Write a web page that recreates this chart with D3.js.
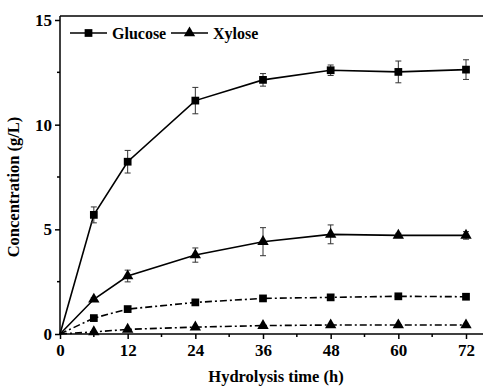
<!DOCTYPE html>
<html>
<head>
<meta charset="utf-8">
<script src="https://cdn.jsdelivr.net/npm/d3@7"></script>
<style>
  body { margin: 0; background: #fff; }
  svg text { font-family: "Liberation Serif", "Times New Roman", serif; font-weight: bold; fill: #000; }
</style>
</head>
<body>
<div id="chart"></div>
<script>
// Data
var times = [0, 6, 12, 24, 36, 48, 60, 72];
var glucose = [0, 5.69, 8.23, 11.15, 12.14, 12.6, 12.52, 12.63];
var glucoseErr = [0, 0.38, 0.54, 0.63, 0.3, 0.25, 0.52, 0.47];
var xylose = [0, 1.66, 2.77, 3.77, 4.41, 4.76, 4.71, 4.71];
var xyloseErr = [0, 0.08, 0.28, 0.34, 0.67, 0.45, 0.1, 0.18];
var glucoseLow = [0, 0.76, 1.19, 1.51, 1.70, 1.75, 1.80, 1.78];
var xyloseLow = [0, 0.1, 0.22, 0.33, 0.40, 0.43, 0.43, 0.43];
var xTicks = [0, 12, 24, 36, 48, 60, 72];
var yTicks = [0, 5, 10, 15];

var W = 483, H = 387;
var frameTop = 16;

var svg = d3.select("#chart").append("svg")
    .attr("width", W).attr("height", H)
    .attr("font-family", "Liberation Serif");

var x = d3.scaleLinear().domain([0, 72]).range([60, 466]);
var y = d3.scaleLinear().domain([0, 15]).range([334, 20]);

// Frame: top line running off the right edge
svg.append("line")
    .attr("x1", x(0)).attr("x2", W + 5)
    .attr("y1", frameTop).attr("y2", frameTop)
    .attr("stroke", "#000").attr("stroke-width", 1.5);

// X axis
var xAxis = svg.append("g")
    .attr("transform", "translate(0," + y(0) + ")")
    .call(d3.axisBottom(x).tickValues(xTicks).tickSize(5).tickSizeOuter(0).tickPadding(5));
xAxis.attr("font-family", null).attr("font-size", null);
xAxis.select(".domain").attr("d", "M" + x(0) + ",0H" + (W + 5)).attr("stroke-width", 1.5);
xAxis.selectAll(".tick line").attr("stroke-width", 1.5);
xAxis.selectAll("text").attr("font-size", 17);
svg.append("g")
    .attr("transform", "translate(0," + y(0) + ")")
    .selectAll("line").data(d3.range(6, 80, 12)).enter().append("line")
    .attr("x1", d => x(d)).attr("x2", d => x(d))
    .attr("y1", 0).attr("y2", 3)
    .attr("stroke", "#000").attr("stroke-width", 1.5);

// Y axis
var yAxis = svg.append("g")
    .attr("transform", "translate(" + x(0) + ",0)")
    .call(d3.axisLeft(y).tickValues(yTicks).tickSize(5).tickSizeOuter(0).tickPadding(3));
yAxis.attr("font-family", null).attr("font-size", null);
yAxis.select(".domain").attr("d", "M0," + y(0) + "V" + frameTop).attr("stroke-width", 1.5);
yAxis.selectAll(".tick line").attr("stroke-width", 1.5);
yAxis.selectAll("text").attr("font-size", 17);
svg.append("g")
    .attr("transform", "translate(" + x(0) + ",0)")
    .selectAll("line").data([2.5, 7.5, 12.5]).enter().append("line")
    .attr("x1", -3).attr("x2", 0)
    .attr("y1", d => y(d)).attr("y2", d => y(d))
    .attr("stroke", "#000").attr("stroke-width", 1.5);

// Axis labels
svg.append("text")
    .attr("x", 276).attr("y", 382)
    .attr("text-anchor", "middle").attr("font-size", 16.5)
    .text("Hydrolysis time (h)");
svg.append("text")
    .attr("transform", "translate(19," + 187 + ") rotate(-90)")
    .attr("text-anchor", "middle").attr("font-size", 16.5)
    .text("Concentration (g/L)");

var line = d3.line().x(d => x(d[0])).y(d => y(d[1]));
var square = d3.symbol().type(d3.symbolSquare).size(60);
var triangle = d3.symbol().type(d3.symbolTriangle).size(56);

function drawSeries(vals, errs, sym, dash) {
  var pts = times.map((t, i) => [t, vals[i], errs ? errs[i] : 0]);
  svg.append("path").datum(pts)
      .attr("d", line)
      .attr("fill", "none").attr("stroke", "#000").attr("stroke-width", 1.6)
      .attr("stroke-dasharray", dash);
  if (errs) {
    var eb = svg.append("g").selectAll("g").data(pts.slice(1)).enter().append("g")
        .attr("stroke", "#333").attr("stroke-width", 1);
    eb.append("line")
        .attr("x1", d => x(d[0])).attr("x2", d => x(d[0]))
        .attr("y1", d => y(d[1] + d[2])).attr("y2", d => y(d[1] - d[2]));
    eb.append("line")
        .attr("x1", d => x(d[0]) - 3).attr("x2", d => x(d[0]) + 3)
        .attr("y1", d => y(d[1] + d[2])).attr("y2", d => y(d[1] + d[2]));
    eb.append("line")
        .attr("x1", d => x(d[0]) - 3).attr("x2", d => x(d[0]) + 3)
        .attr("y1", d => y(d[1] - d[2])).attr("y2", d => y(d[1] - d[2]));
  }
  svg.append("g").selectAll("path").data(pts.slice(1)).enter().append("path")
      .attr("d", sym)
      .attr("transform", d => "translate(" + x(d[0]) + "," + y(d[1]) + ")")
      .attr("fill", "#000");
}

drawSeries(glucoseLow, null, square, "7,3,2,3");
drawSeries(xyloseLow, null, triangle, "7,3,2,3");
drawSeries(xylose, xyloseErr, triangle, null);
drawSeries(glucose, glucoseErr, square, null);

// Legend
var legend = svg.append("g").attr("transform", "translate(0,33)");
var items = [{name: "Glucose", sym: square, x0: 70}, {name: "Xylose", sym: triangle, x0: 171}];
items.forEach(function(it) {
  legend.append("line").attr("x1", it.x0).attr("x2", it.x0 + 37)
      .attr("y1", 0).attr("y2", 0).attr("stroke", "#000").attr("stroke-width", 1.5);
  legend.append("path").attr("d", it.sym)
      .attr("transform", "translate(" + (it.x0 + 18.5) + ",0)").attr("fill", "#000");
  legend.append("text").attr("x", it.x0 + 42).attr("y", 5.5)
      .attr("font-size", 16).text(it.name);
});
</script>
</body>
</html>
